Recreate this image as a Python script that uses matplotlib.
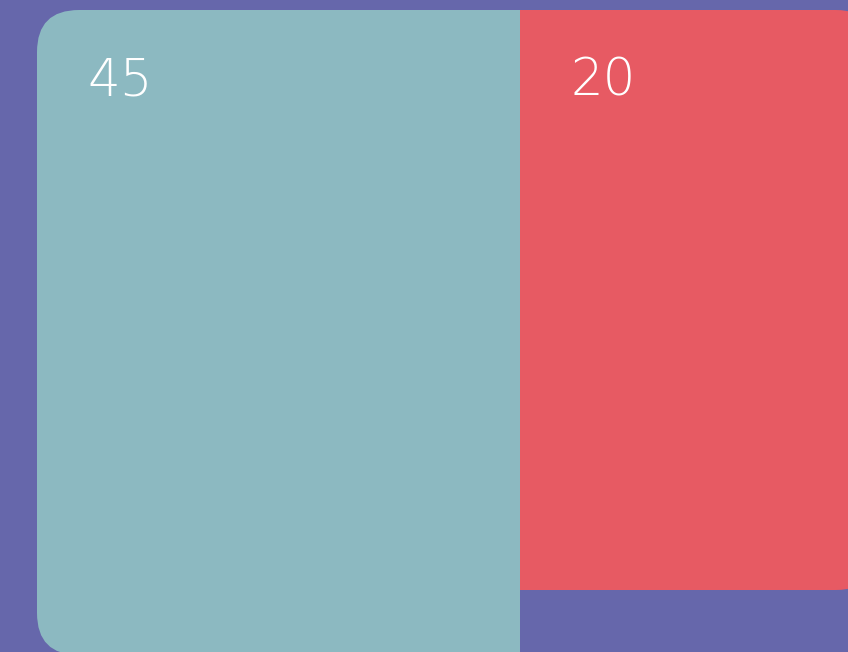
import matplotlib.pyplot as plt
from matplotlib.patches import FancyBboxPatch, Rectangle

# datos
labels = ["45", "20"]
values = [45, 20]
colors = ["#8CB9C1", "#E75A63"]
widths = [483, 358]      # ancho de cada bloque (px)
heights = [645, 580]     # alto de cada bloque (px)
background = "#6667AB"

x0, y0 = 37, 10
radius = 42

fig = plt.figure(figsize=(8.48, 6.52), dpi=100)
fig.patch.set_facecolor(background)
ax = fig.add_axes([0, 0, 1, 1])
ax.set_xlim(0, 848)
ax.set_ylim(652, 0)
ax.axis("off")

left = x0
for i, (lab, val, col, w, h) in enumerate(zip(labels, values, colors, widths, heights)):
    box = FancyBboxPatch((left, y0), w, h,
                         boxstyle=f"round,pad=0,rounding_size={radius}",
                         facecolor=col, edgecolor="none", mutation_aspect=1)
    ax.add_patch(box)
    # solo las esquinas exteriores van redondeadas
    if i == 0:
        ax.add_patch(Rectangle((left + w - radius, y0), radius, h, facecolor=col, edgecolor="none"))
    else:
        ax.add_patch(Rectangle((left, y0), radius, h, facecolor=col, edgecolor="none"))
    ax.text(left + 50, y0 + 86, lab, color="white", fontsize=37,
            family=["DejaVu Sans"], fontweight="light",
            ha="left", va="baseline")
    left += w

fig.savefig("out.png", dpi=100, facecolor=background)
